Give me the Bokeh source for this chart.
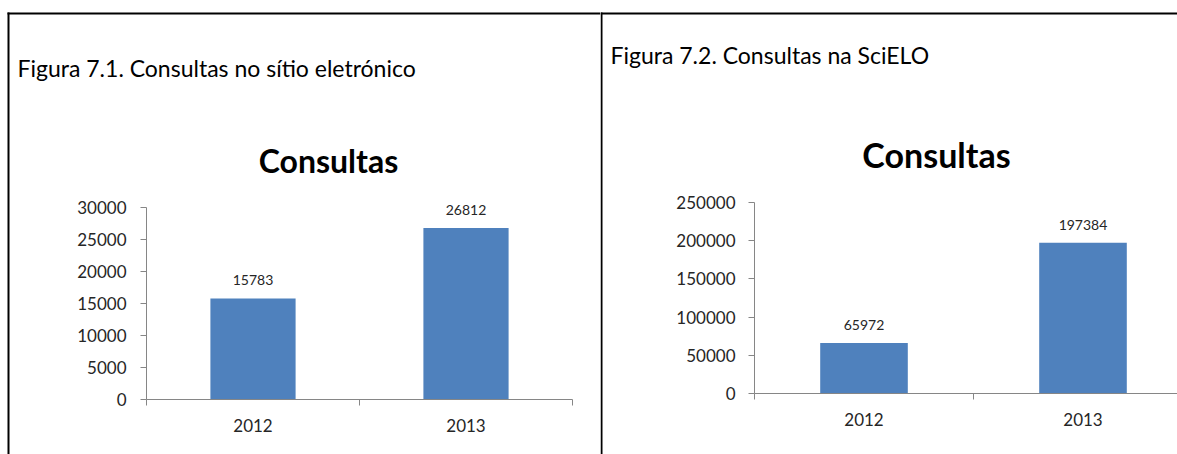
from bokeh.plotting import figure
from bokeh.models import (Range1d, FixedTicker, ColumnDataSource, LabelSet, Label,
                          BoxAnnotation, NumeralTickFormatter)
from bokeh.core.properties import value
from bokeh.layouts import row
from bokeh.embed import file_html
from bokeh.resources import INLINE

# ---------------- data ----------------
years = ["2012", "2013"]
site_visits = [15783, 26812]
scielo_visits = [65972, 197384]
site_yticks = [0, 5000, 10000, 15000, 20000, 25000, 30000]
scielo_yticks = [0, 50000, 100000, 150000, 200000, 250000]
captions = ["Figura 7.1. Consultas no sítio eletrónico", "Figura 7.2. Consultas na SciELO"]
chart_title = "Consultas"

FONT = "Lato"
BAR = "#4F81BD"
AXIS = "#868686"
TXT = "#262626"
H = 454


class Geo:
    """pixel <-> data helper for one panel (canvas px, y down)."""
    def __init__(self, left_px, width, axis_x, cat_px, zero_y, top_y, ymax):
        self.left_px, self.width = left_px, width
        self.axis_x, self.cat_px = axis_x, cat_px
        self.zero_y, self.per_px = zero_y, ymax / (zero_y - top_y)

    def x(self, sx):
        return (sx - self.axis_x) / self.cat_px

    def y(self, sy):
        return (self.zero_y - sy) * self.per_px


def panel(values, yticks, g, caption, cap_pos, title_pos, title_size, borders,
          ystandoff):
    p = figure(width=g.width, height=H,
               x_range=Range1d(g.x(g.left_px), g.x(g.left_px + g.width)),
               y_range=Range1d(g.y(H), g.y(0)), output_backend="svg",
               toolbar_location=None, min_border=0, min_border_left=0,
               min_border_right=0, min_border_top=0, min_border_bottom=0,
               title_location=None)
    p.outline_line_color = None
    p.grid.visible = False
    p.background_fill_color = "white"
    p.border_fill_color = "white"

    xs = [i + 0.5 for i in range(len(years))]
    src = ColumnDataSource(dict(x=xs, top=values, label=[str(v) for v in values]))
    p.vbar(x="x", top="top", width=0.4, source=src, fill_color=BAR, line_color=None)

    # axes
    p.yaxis.ticker = FixedTicker(ticks=yticks)
    p.yaxis.formatter = NumeralTickFormatter(format="0")
    p.yaxis.bounds = (yticks[0], yticks[-1])
    p.yaxis.fixed_location = 0
    p.xaxis.ticker = FixedTicker(ticks=xs, minor_ticks=list(range(len(years) + 1)))
    p.xaxis.major_label_overrides = {x: y for x, y in zip(xs, years)}
    p.xaxis.bounds = (0, len(years))
    p.xaxis.fixed_location = 0
    for ax in (p.xaxis[0], p.yaxis[0]):
        ax.axis_line_color = AXIS
        ax.axis_line_width = 1
        ax.major_tick_line_color = AXIS
        ax.minor_tick_line_color = AXIS
        ax.major_label_text_font = FONT
        ax.major_label_text_font_size = "17px"
        ax.major_label_text_color = TXT
        ax.major_tick_in = 0
        ax.minor_tick_in = 0
    p.yaxis.major_tick_out = 6
    p.yaxis.minor_tick_line_color = None
    p.yaxis.major_label_standoff = ystandoff
    p.xaxis.major_tick_out = 0
    p.xaxis.minor_tick_out = 6
    p.xaxis.major_label_standoff = 13

    p.add_layout(LabelSet(x="x", y="top", text="label", source=src, y_offset=13,
                          text_align="center", text_baseline="bottom",
                          text_font=value(FONT), text_font_size=value("14px"),
                          text_color=TXT))

    p.add_layout(Label(x=g.x(title_pos[0]), y=g.y(title_pos[1]),
                       text=chart_title, text_align="center", text_baseline="middle",
                       text_font=FONT, text_font_style="bold",
                       text_font_size=title_size, text_color="#000000"))
    p.add_layout(Label(x=g.x(cap_pos[0]), y=g.y(cap_pos[1]),
                       text=caption, text_align="left", text_baseline="middle",
                       text_font=FONT, text_font_size="23px", text_color="#000000"))
    for (x0, x1, y0, y1) in borders:
        p.add_layout(BoxAnnotation(left=g.x(x0), right=g.x(x1), top=g.y(y0),
                                   bottom=g.y(y1), fill_color="black", fill_alpha=1,
                                   line_color=None, level="overlay"))
    return p


# left panel: canvas px 0..600
g1 = Geo(left_px=0, width=600, axis_x=146, cat_px=213, zero_y=399, top_y=207,
         ymax=site_yticks[-1])
p1 = panel(site_visits, site_yticks, g1, captions[0], (17, 67.5), (328, 159.5), "32px",
           [(7, 600, 12, 14), (7, 9, 12, H)], 14)

# right panel: canvas px 600..1177
g2 = Geo(left_px=600, width=577, axis_x=754, cat_px=219, zero_y=393, top_y=202,
         ymax=scielo_yticks[-1])
p2 = panel(scielo_visits, scielo_yticks, g2, captions[1], (610, 54), (936, 154), "34px",
           [(600, 1177, 12, 14), (600, 602, 12, H)], 13)

layout = row(p1, p2, spacing=0)
open("out.html", "w").write(file_html(layout, INLINE))
